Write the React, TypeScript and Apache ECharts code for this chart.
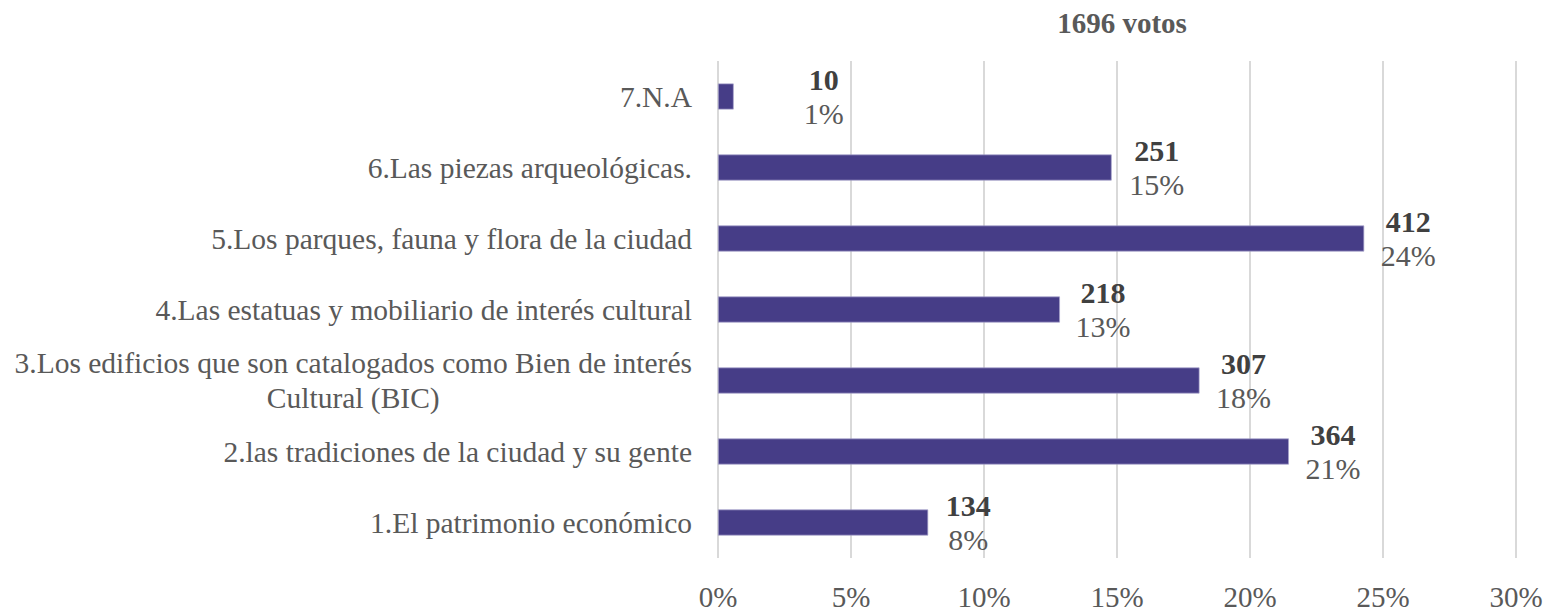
import React, { useEffect, useRef } from "react";
import * as echarts from "echarts";

const TITLE = "1696 votos";
const TOTAL = 1696;
const categories = [
  "1.El patrimonio económico",
  "2.las tradiciones de la ciudad y su gente",
  "3.Los edificios que son catalogados como Bien de interés\nCultural (BIC)",
  "4.Las estatuas y mobiliario de interés cultural",
  "5.Los parques, fauna y flora de la ciudad",
  "6.Las piezas arqueológicas.",
  "7.N.A",
];
const votes = [134, 364, 307, 218, 412, 251, 10];
const percentLabels = ["8%", "21%", "18%", "13%", "24%", "15%", "1%"];
// horizontal offset of each data label's centre from the bar end (px)
const labelOffsets = [40, 44, 44, 43, 44, 45, 90];
const xTicks = [0, 5, 10, 15, 20, 25, 30];

const FONT = "'Liberation Serif', 'Times New Roman', serif";

function measure(text: string, size: number): number {
  const c = document.createElement("canvas");
  const ctx = c.getContext("2d");
  if (!ctx) return text.length * size * 0.45;
  ctx.font = `${size}px ${FONT}`;
  return ctx.measureText(text).width;
}

export default function App() {
  const ref = useRef<HTMLDivElement>(null);
  useEffect(() => {
    if (!ref.current) return;
    const chart = echarts.init(ref.current, undefined, { renderer: "svg" });
    const catFont = 29.5;
    const multiWidth = Math.max(
      ...categories.map((c) => (c.includes("\n") ? Math.max(...c.split("\n").map((l) => measure(l, catFont))) : 0))
    );
    chart.setOption({
      animation: false,
      backgroundColor: "#ffffff",
      textStyle: { fontFamily: FONT },
      title: {
        text: TITLE,
        left: 1117,
        textAlign: "center",
        top: 3,
        textStyle: { fontFamily: FONT, fontSize: 29, fontWeight: "bold", color: "#595959" },
      },
      grid: { left: 718, right: 33, top: 61, bottom: 49, containLabel: false },
      xAxis: {
        type: "value",
        min: xTicks[0],
        max: xTicks[xTicks.length - 1],
        interval: 5,
        axisLine: { show: false },
        axisTick: { show: false },
        splitLine: { show: true, lineStyle: { color: "#d9d9d9", width: 2 } },
        axisLabel: {
          formatter: (v: number) => `${v}%`,
          fontFamily: FONT,
          fontSize: 29,
          color: "#595959",
          margin: 24,
        },
      },
      yAxis: {
        type: "category",
        data: categories,
        axisLine: { show: false },
        axisTick: { show: false },
        axisLabel: {
          margin: 26,
          fontFamily: FONT,
          fontSize: catFont,
          color: "#595959",
          lineHeight: 35,
          formatter: (v: string) => {
            if (v.includes("\n")) {
              return v
                .split("\n")
                .map((l) => `{m|${l}}`)
                .join("\n");
            }
            return v;
          },
          rich: {
            m: {
              width: multiWidth,
              align: "center",
              fontFamily: FONT,
              fontSize: catFont,
              color: "#595959",
              lineHeight: 35,
            },
          },
        },
      },
      series: [
        {
          type: "bar",
          barWidth: 26,
          itemStyle: { color: "#463d87", borderColor: "#a7a3cc", borderWidth: 0.7 },
          data: votes.map((v, i) => ({
            value: (v / TOTAL) * 100,
            label: {
              show: true,
              position: "right",
              distance: 0,
              align: "center",
              verticalAlign: "middle",
              offset: [labelOffsets[i], 0],
              formatter: `{a|${v}}\n{b|${percentLabels[i]}}`,
              rich: {
                a: {
                  fontFamily: FONT,
                  fontSize: 30,
                  fontWeight: "bold",
                  color: "#404040",
                  lineHeight: 34,
                  align: "center",
                },
                b: {
                  fontFamily: FONT,
                  fontSize: 30,
                  color: "#595959",
                  lineHeight: 34,
                  align: "center",
                },
              },
            },
          })),
        },
      ],
    });
    return () => chart.dispose();
  }, []);
  return <div ref={ref} style={{ width: 1549, height: 611, position: "absolute", left: 0, top: 0 }} />;
}
